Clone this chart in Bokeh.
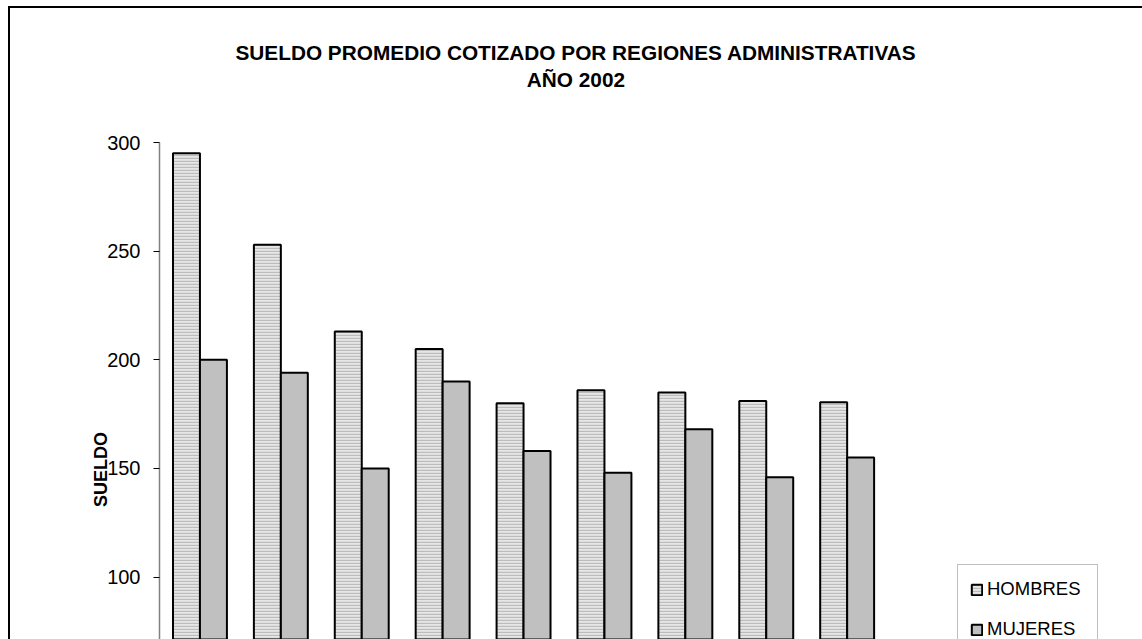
import math
import numpy as np
from bokeh.plotting import figure
from bokeh.models import (ColumnDataSource, Range1d, FixedTicker,
                          Legend, LegendItem, Label)
from bokeh.transform import dodge
from bokeh.embed import file_html
from bokeh.resources import INLINE

# ---- data -------------------------------------------------------------
regions = ["Capital", "Central", "Los Llanos", "Centro Occidental", "Zuliana",
           "Los Andes", "Nor-Oriental", "Insular", "Guayana"]
hombres = [295, 253, 213, 205, 180, 186, 185, 181, 180.5]
mujeres = [200, 194, 150, 190, 158, 148, 168, 146, 155]
series_names = ["HOMBRES", "MUJERES"]
y_ticks = [0, 50, 100, 150, 200, 250, 300]
title_line1 = "SUELDO PROMEDIO COTIZADO POR REGIONES ADMINISTRATIVAS"
title_line2 = "AÑO 2002"
y_label = "SUELDO"

FONT = "Liberation Sans"
W, H = 1142, 639
AXIS_X = 159              # page x of the value axis
PX_PER_CAT = 80.9         # width of one region slot
PX_PER_UNIT = 2.173       # pixels per unit of SUELDO
AXIS_TOP = 142            # page y of the 300 tick

# category slots (one per region) on a numeric scale
source = ColumnDataSource(dict(region=regions,
                               pos=np.arange(len(regions)) + 0.5,
                               hombres=hombres, mujeres=mujeres))

x_start = -AXIS_X / PX_PER_CAT
x_end = (W - AXIS_X) / PX_PER_CAT
y_start = y_ticks[-1] - (H - AXIS_TOP) / PX_PER_UNIT
y_end = y_ticks[-1] + AXIS_TOP / PX_PER_UNIT

# the frame fills the whole canvas, so screen units below are page pixels
p = figure(width=W, height=H,
           x_range=Range1d(x_start, x_end), y_range=Range1d(y_start, y_end),
           output_backend="svg", toolbar_location=None,
           min_border_left=0, min_border_right=0,
           min_border_top=0, min_border_bottom=0)

p.background_fill_alpha = 0
p.border_fill_alpha = 0
p.outline_line_color = None
p.xgrid.visible = False
p.ygrid.visible = False
p.xaxis.visible = False
p.styles = {
    "background": ("linear-gradient(#000,#000) 8px 6px / 1134px 2px no-repeat, "
                   "linear-gradient(#000,#000) 8px 6px / 2px 633px no-repeat, #ffffff"),
}

r_h = p.vbar(x=dodge("pos", -1/6), top="hombres", width=1/3,
             source=source, fill_color="#e6e6e6",
             hatch_pattern="horizontal_line", hatch_scale=3, hatch_weight=1.4,
             hatch_color="#bcbcbc", line_color="black", line_width=2)
r_m = p.vbar(x=dodge("pos", 1/6), top="mujeres", width=1/3,
             source=source, fill_color="#c0c0c0",
             line_color="black", line_width=2)

yax = p.yaxis[0]
yax.fixed_location = 0
yax.ticker = FixedTicker(ticks=y_ticks)
yax.bounds = (y_ticks[0], y_ticks[-1])
yax.axis_line_color = "#808080"
yax.axis_line_width = 1.5
yax.major_tick_line_color = "black"
yax.major_tick_line_width = 1
yax.major_tick_out = 6
yax.major_tick_in = 0
yax.minor_tick_line_color = None
yax.major_label_standoff = 13
yax.major_label_text_font = FONT
yax.major_label_text_font_size = "20px"
yax.major_label_text_color = "black"

# rotated value-axis title, centred on the full 0-300 axis
p.add_layout(Label(x=100, y=H - 469, x_units="screen", y_units="screen",
                   text=y_label, angle=math.pi / 2, text_font=FONT,
                   text_font_size="18px", text_font_style="bold",
                   text_align="center", text_baseline="middle",
                   text_color="black"))

legend = Legend(items=[LegendItem(label=series_names[0], renderers=[r_h]),
                       LegendItem(label=series_names[1], renderers=[r_m])],
                location=(957, -15), orientation="vertical",
                padding=12, spacing=16, glyph_width=13, glyph_height=13,
                label_height=24, label_width=98, label_standoff=4,
                label_text_font=FONT, label_text_font_size="18.5px",
                label_text_color="black",
                border_line_color="#808080", border_line_width=1,
                background_fill_color="white", background_fill_alpha=1)
p.add_layout(legend)

# two-line title
for txt, page_y in [(title_line1, 51.5), (title_line2, 78.5)]:
    p.add_layout(Label(x=575.4, y=H - page_y,
                       x_units="screen", y_units="screen", text=txt,
                       text_font=FONT, text_font_size="20.8px",
                       text_font_style="bold", text_align="center",
                       text_baseline="middle", text_color="black"))

open("out.html", "w").write(file_html(p, INLINE))
